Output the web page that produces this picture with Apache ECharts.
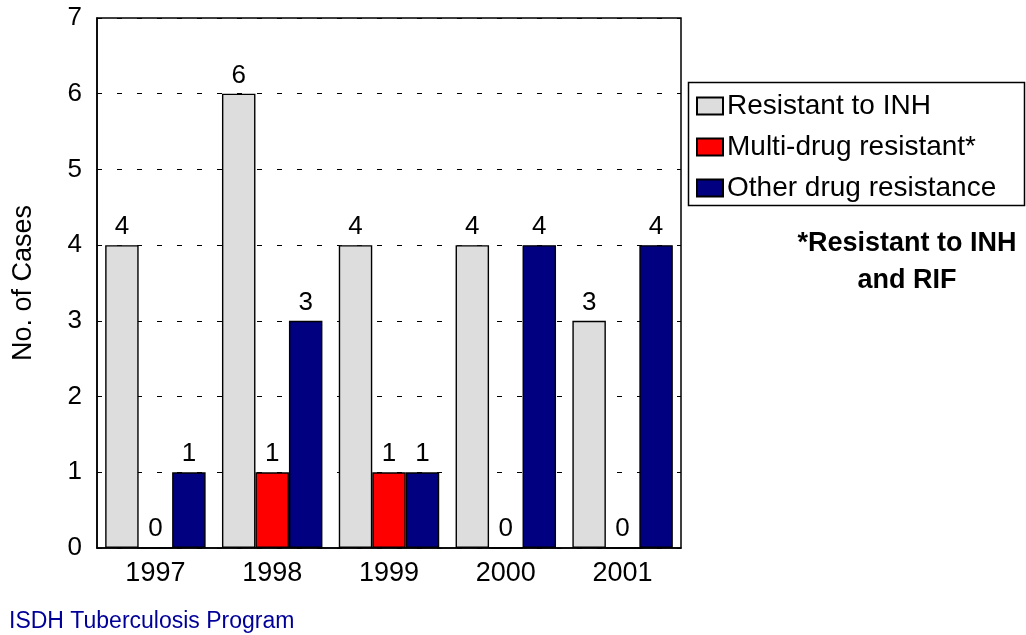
<!DOCTYPE html>
<html>
<head>
<meta charset="utf-8">
<style>
html, body { margin: 0; padding: 0; background: #fff; }
#chart { width: 1026px; height: 635px; }
</style>
</head>
<body>
	<div id="chart"></div>
	<script src="https://cdn.jsdelivr.net/npm/echarts@6/dist/echarts.min.js"></script>
	<script type="text/javascript">
		var years = ['1997', '1998', '1999', '2000', '2001'];
		var resistantINH = [4, 6, 4, 4, 3];
		var multiDrug = [0, 1, 1, 0, 0];
		var otherDrug = [1, 3, 1, 4, 4];
		var yTicks = [0, 1, 2, 3, 4, 5, 6, 7];

		var font = '"Liberation Sans", Arial, sans-serif';
		var myChart = echarts.init(document.getElementById('chart'));

		function barSeries(name, data, color) {
			return {
				name: name,
				type: 'bar',
				data: data,
				barGap: '0%',
				barCategoryGap: '14%',
				itemStyle: { color: color, borderColor: '#000', borderWidth: 1.4 },
				label: {
					show: true,
					position: 'top',
					distance: 5,
					color: '#000',
					fontSize: 26,
					fontFamily: font
				}
			};
		}

		var option = {
			backgroundColor: '#fff',
			animation: false,
			grid: {
				left: 97, right: 345, top: 18, bottom: 87,
				show: true, borderColor: '#000', borderWidth: 1.5
			},
			legend: {
				orient: 'vertical',
				left: 696, top: 92,
				itemWidth: 26, itemHeight: 17, itemGap: 13,
				icon: 'rect',
				padding: 0,
				textStyle: { fontSize: 28, fontFamily: font, color: '#000', padding: [0, 0, 0, -1] },
				data: ['Resistant to INH', 'Multi-drug resistant*', 'Other drug resistance']
			},
			xAxis: {
				type: 'category',
				data: years,
				axisLine: { lineStyle: { color: '#000', width: 1.5 } },
				axisTick: { show: false },
				axisLabel: { color: '#000', fontSize: 27, fontFamily: font, margin: 12 }
			},
			yAxis: {
				type: 'value',
				min: yTicks[0],
				max: yTicks[yTicks.length - 1],
				interval: 1,
				name: 'No. of Cases',
				nameLocation: 'middle',
				nameGap: 60,
				nameTextStyle: { fontSize: 27, fontFamily: font, color: '#000' },
				axisLine: { show: true, lineStyle: { color: '#000', width: 1.5 } },
				axisTick: { show: false },
				axisLabel: { color: '#000', fontSize: 26, fontFamily: font, margin: 15 },
				splitLine: { show: true, lineStyle: { color: '#000', type: [5, 15], width: 1 } }
			},
			series: [
				barSeries('Resistant to INH', resistantINH, '#dddddd'),
				barSeries('Multi-drug resistant*', multiDrug, '#ff0000'),
				barSeries('Other drug resistance', otherDrug, '#000080')
			],
			graphic: [
				{
					type: 'rect',
					shape: { x: 688.5, y: 82.5, width: 336, height: 123 },
					style: { fill: 'none', stroke: '#000', lineWidth: 1.5 },
					z: 10
				},
				{
					type: 'text',
					x: 907, y: 262,
					style: {
						text: '*Resistant to INH\nand RIF',
						fill: '#000',
						font: 'bold 27px ' + font,
						align: 'center',
						verticalAlign: 'middle',
						lineHeight: 37
					}
				},
				{
					type: 'text',
					x: 9, y: 622,
					style: {
						text: 'ISDH Tuberculosis Program',
						fill: '#000099',
						font: '23px ' + font,
						verticalAlign: 'middle'
					}
				}
			]
		};
		myChart.setOption(option, true);
	</script>
</body>
</html>
